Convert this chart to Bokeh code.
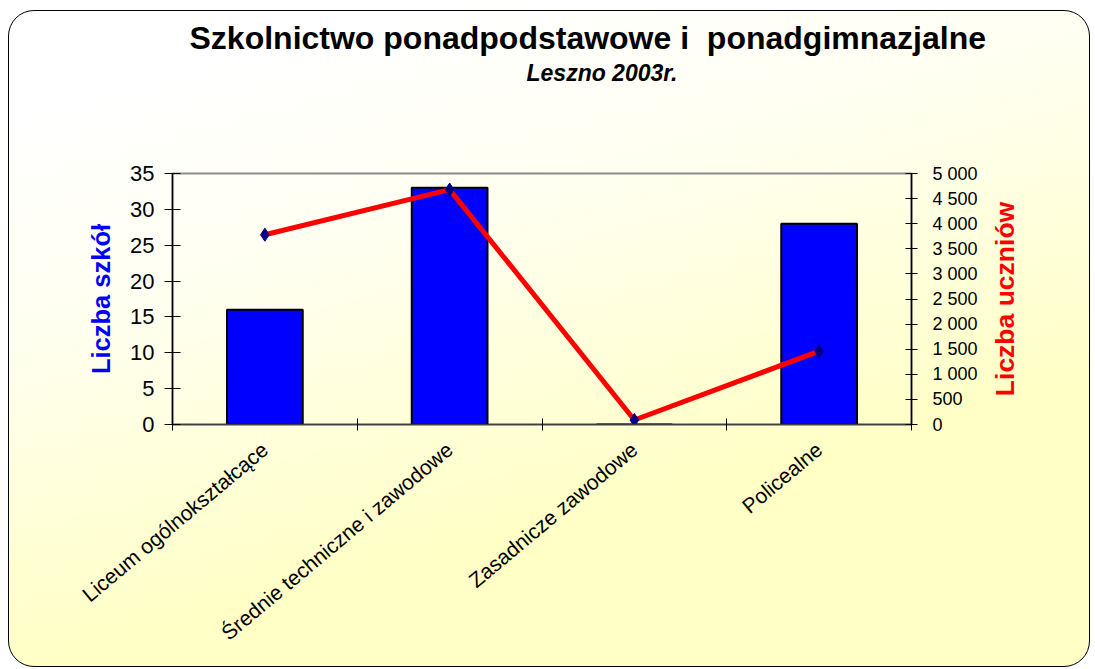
import math
from bokeh.plotting import figure
from bokeh.layouts import row
from bokeh.models import Range1d, LinearAxis, FixedTicker, Title, ColumnDataSource
from bokeh.embed import file_html
from bokeh.resources import INLINE

# ---- data ----
categories = ["Liceum ogólnokształcące", "Średnie techniczne i zawodowe",
              "Zasadnicze zawodowe", "Policealne"]
schools = [16, 33, 0, 28]
students = [3780, 4680, 90, 1460]
left_ticks = [0, 5, 10, 15, 20, 25, 30, 35]
right_ticks = [0, 500, 1000, 1500, 2000, 2500, 3000, 3500, 4000, 4500, 5000]
right_tick_labels = ["0", "500", "1 000", "1 500", "2 000", "2 500", "3 000",
                     "3 500", "4 000", "4 500", "5 000"]
title_text = "Szkolnictwo ponadpodstawowe i \u00a0ponadgimnazjalne"
subtitle_text = "Leszno 2003r."
left_label = "Liczba szkół"
right_label = "Liczba uczniów"

FONT = "Liberation Sans"
H = 655
TOP, BOTTOM = 162, 242

xs = [i + 0.5 for i in range(len(categories))]
bounds = [i for i in range(len(categories) + 1)]
src = ColumnDataSource(dict(x=xs, schools=schools, students=students))

p = figure(width=977, height=H, output_backend="svg", toolbar_location=None,
           title=None,
           x_range=Range1d(0, len(categories)), y_range=Range1d(0, 35),
           min_border_left=163, min_border_right=75, min_border_top=TOP,
           min_border_bottom=BOTTOM)
p.extra_y_ranges = {"right": Range1d(0, 5000)}

p.background_fill_color = None
p.border_fill_color = None
p.outline_line_color = "#8c8c8c"
p.outline_line_width = 2
p.xgrid.visible = False
p.ygrid.visible = False

# x axis
xa = p.xaxis[0]
xa.ticker = FixedTicker(ticks=xs, minor_ticks=bounds)
xa.major_label_overrides = {x: c for x, c in zip(xs, categories)}
xa.major_tick_line_color = None
xa.minor_tick_in = 6
xa.minor_tick_out = 6
xa.minor_tick_line_color = "black"
xa.axis_line_color = "#404040"
xa.axis_line_width = 1.5
xa.major_label_orientation = math.radians(40)
xa.major_label_text_font = FONT
xa.major_label_text_font_size = "21px"
xa.major_label_text_color = "black"
xa.major_label_standoff = 16

# left axis
ya = p.yaxis[0]
ya.ticker = FixedTicker(ticks=left_ticks)
ya.major_tick_in = 8
ya.major_tick_out = 8
ya.minor_tick_line_color = None
ya.axis_line_color = "black"
ya.axis_line_width = 1.5
ya.major_label_text_font = FONT
ya.major_label_text_font_size = "22px"
ya.major_label_text_color = "black"
ya.major_label_standoff = 10
ya.axis_label = left_label
ya.axis_label_text_font = FONT
ya.axis_label_text_font_size = "25.5px"
ya.axis_label_text_font_style = "bold"
ya.axis_label_text_color = "#0000FF"
ya.axis_label_standoff = 12

# right axis (ticks and numbers)
ra = LinearAxis(y_range_name="right", ticker=FixedTicker(ticks=right_ticks))
ra.major_label_overrides = {t: l for t, l in zip(right_ticks, right_tick_labels)}
ra.major_tick_in = 6
ra.major_tick_out = 6
ra.minor_tick_line_color = None
ra.axis_line_color = "black"
ra.axis_line_width = 1.5
ra.major_label_text_font = FONT
ra.major_label_text_font_size = "18px"
ra.major_label_text_color = "black"
ra.major_label_standoff = 15
p.add_layout(ra, "right")

# glyphs
p.vbar(x="x", top="schools", width=0.41, source=src,
       fill_color="#0000FF", line_color="black", line_width=2)
p.line(x="x", y="students", source=src, y_range_name="right",
       line_color="#FF0000", line_width=5)
p.scatter(x="x", y="students", source=src, y_range_name="right",
          marker="diamond", size=13, fill_color="#000080", line_color="#000080")

# titles (spacer closest to the frame, then subtitle, then main title)
spacer = Title(text=" ", text_font=FONT, text_font_size="10px", standoff=73)
p.add_layout(spacer, "above")
sub = Title(text=subtitle_text, text_font=FONT, text_font_size="23px",
            text_font_style="bold italic", text_color="black", align="left",
            offset=354, standoff=4)
p.add_layout(sub, "above")
main = Title(text=title_text, text_font=FONT, text_color="black",
             text_font_size="32px", text_font_style="bold", align="left",
             offset=17, standoff=0)
p.add_layout(main, "above")

# narrow companion figure carrying the right-hand axis title (reads bottom-to-top)
q = figure(width=103, height=H, output_backend="svg", toolbar_location=None,
           title=None, x_range=Range1d(0, 1), y_range=Range1d(0, 5000),
           min_border_left=50, min_border_right=0, min_border_top=TOP,
           min_border_bottom=BOTTOM)
q.background_fill_color = None
q.border_fill_color = None
q.outline_line_color = None
q.xgrid.visible = False
q.ygrid.visible = False
q.xaxis.visible = False
qa = q.yaxis[0]
qa.ticker = FixedTicker(ticks=[])
qa.axis_line_color = None
qa.major_tick_line_color = None
qa.minor_tick_line_color = None
qa.major_tick_out = 0
qa.major_tick_in = 0
qa.major_label_standoff = 0
qa.axis_label = right_label
qa.axis_label_text_font = FONT
qa.axis_label_text_font_size = "26.5px"
qa.axis_label_text_font_style = "bold"
qa.axis_label_text_color = "#FF0000"
qa.axis_label_standoff = 18

layout = row(p, q, spacing=0, styles={
    "margin-left": "8px",
    "margin-top": "10px",
    "background": "linear-gradient(165deg, #ffffff 12%, #fffff0 35%, #ffffc6 70%)",
    "border": "1.5px solid black",
    "border-radius": "26px",
})

open("out.html", "w").write(file_html(layout, INLINE))
